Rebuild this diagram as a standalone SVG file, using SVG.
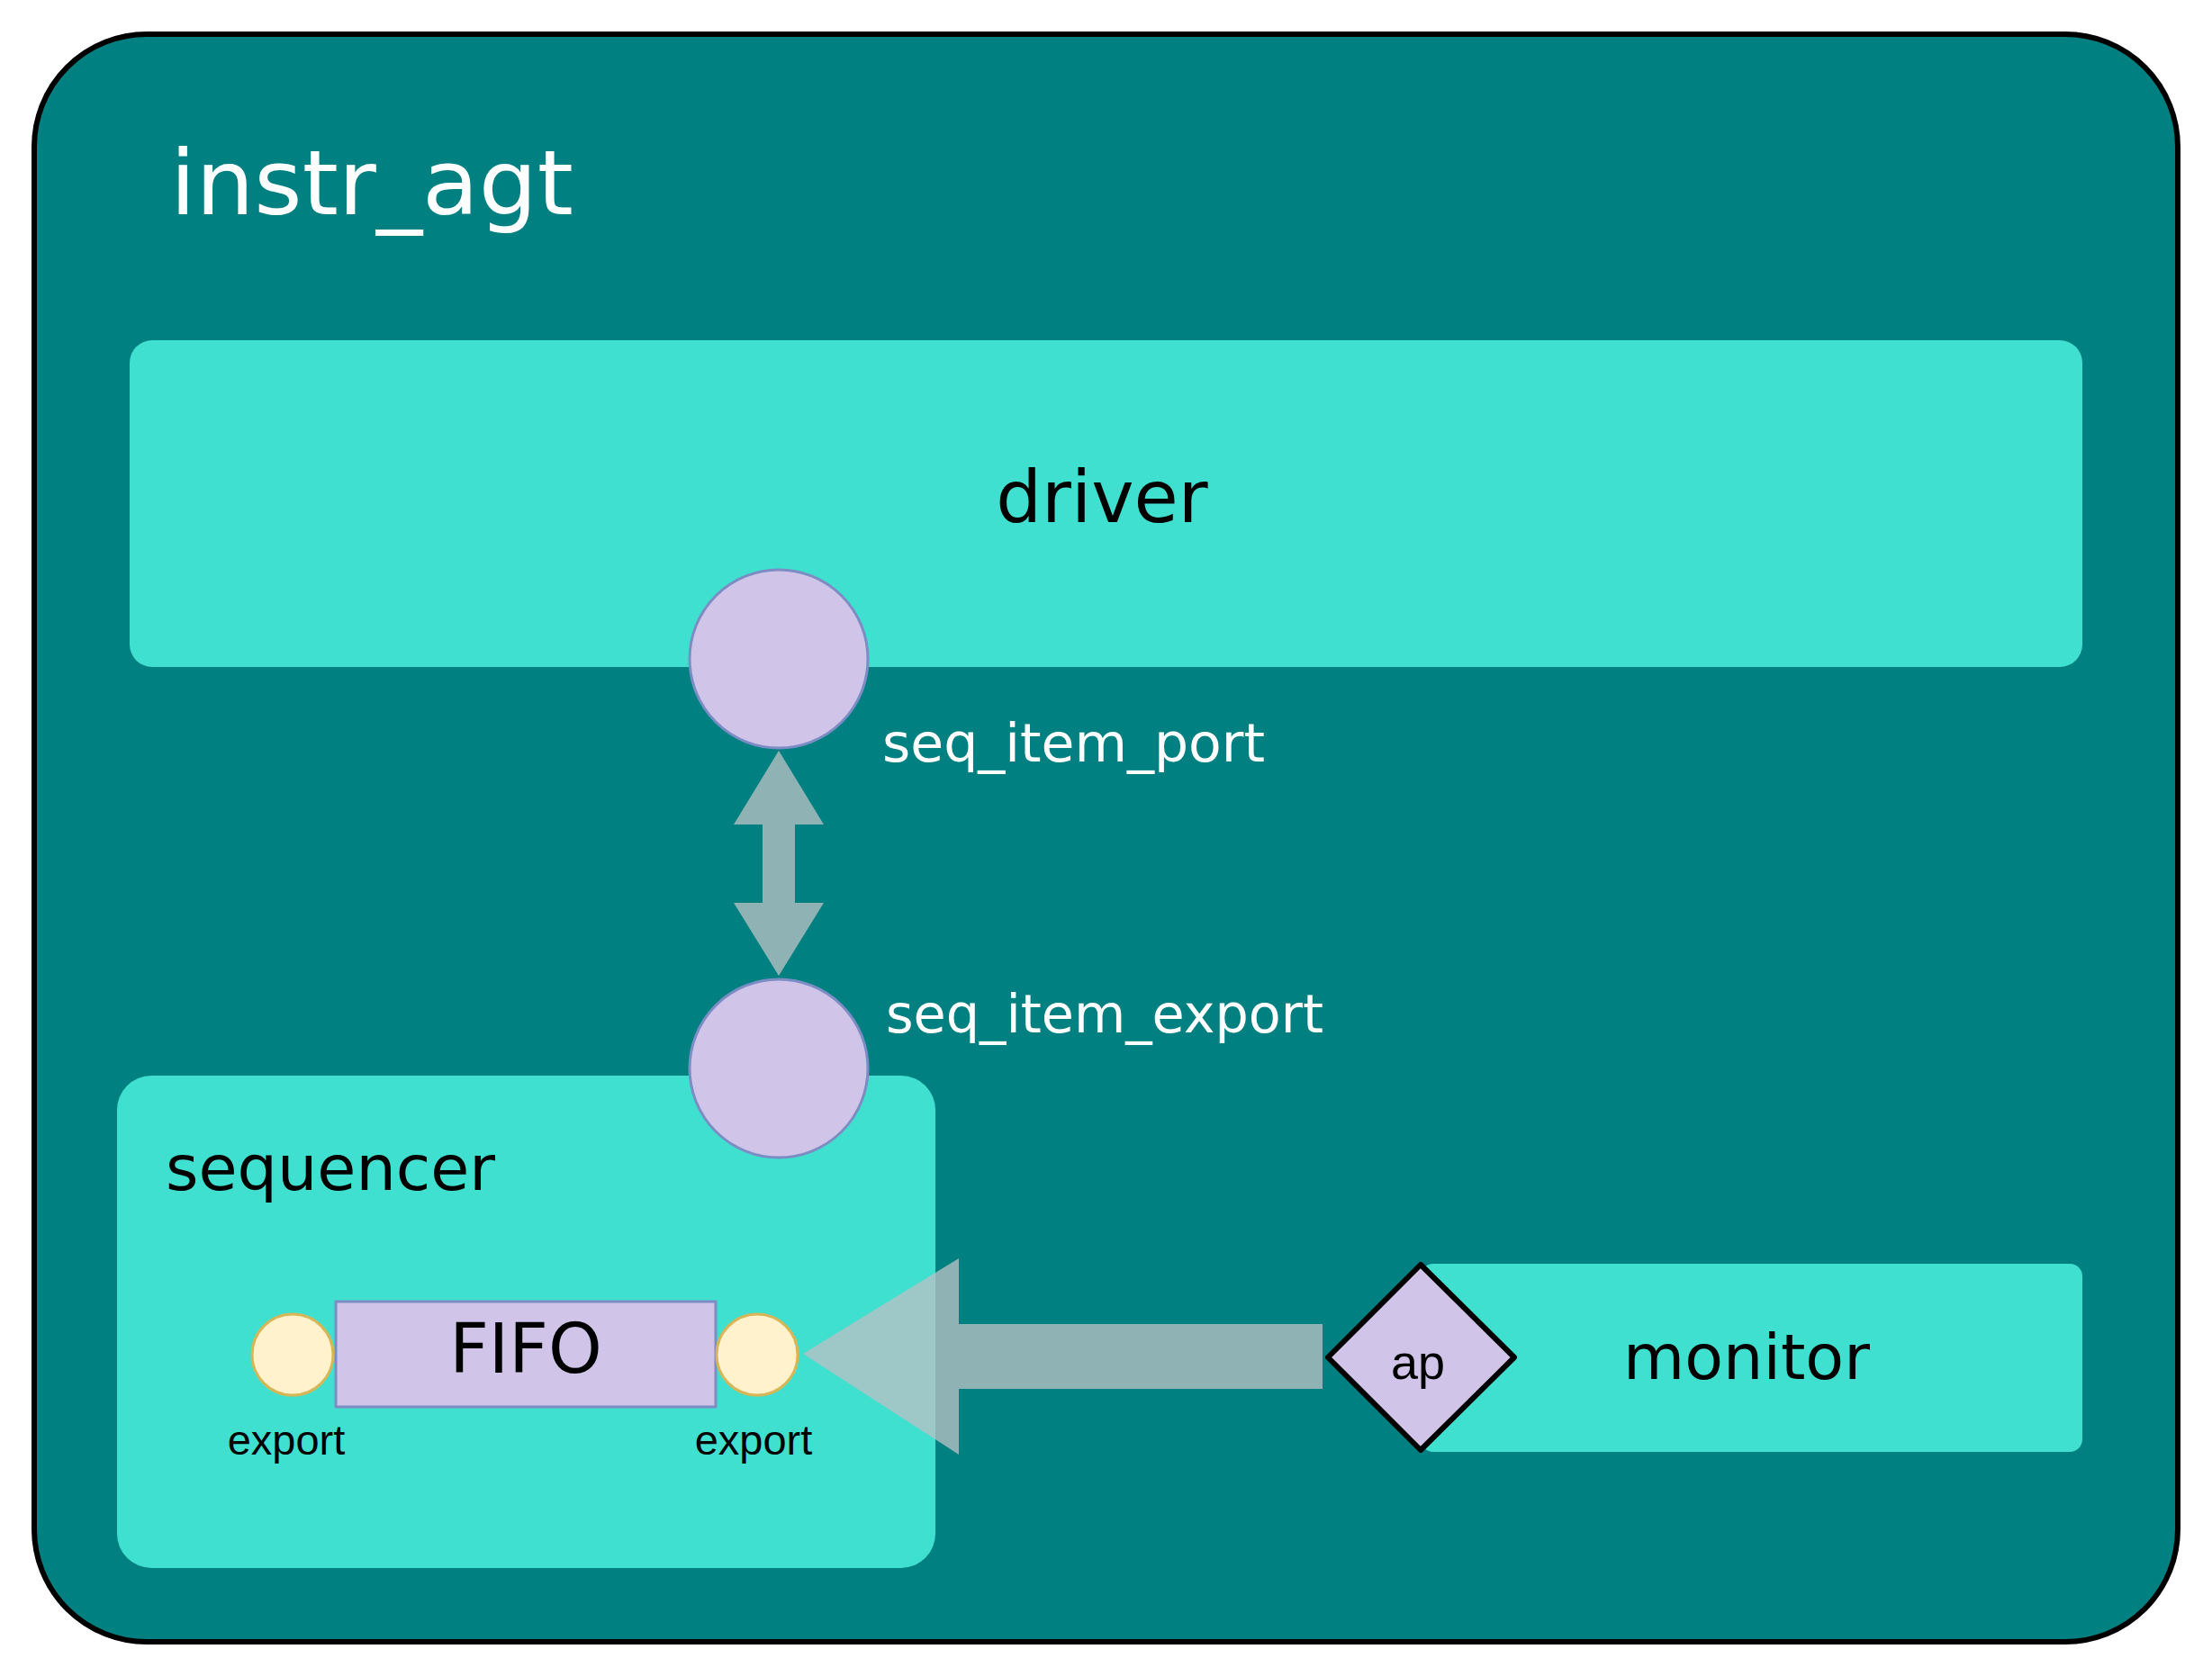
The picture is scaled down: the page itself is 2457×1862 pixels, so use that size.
<svg xmlns="http://www.w3.org/2000/svg" width="2457" height="1862" viewBox="0 0 2457 1862">
<style>
.box{fill:#40E0D0;}
.port{fill:#D0C4E8;stroke:#7C8DC4;stroke-width:3;}
.exp{fill:#FFF2CC;stroke:#D6B656;stroke-width:3;}
.conn{fill:#B7C1C4;fill-opacity:0.78;}
.lbl{font-family:"DejaVu Sans",sans-serif;fill:#000;}
.wlbl{font-family:"DejaVu Sans",sans-serif;fill:#fff;}
.sm{font-family:"Liberation Sans",Arial,sans-serif;fill:#000;}
</style>
<rect x="0" y="0" width="2457" height="1862" fill="#fff"/>
<g id="instr_agt">
<rect x="38" y="38" width="2381" height="1786" rx="125" ry="125" fill="#008080" stroke="#000" stroke-width="6"/>
<text class="wlbl" x="189" y="238" font-size="100" textLength="448" lengthAdjust="spacingAndGlyphs">instr_agt</text>
</g>
<g id="driver">
<rect class="box" x="144" y="378" width="2169" height="363" rx="25" ry="25"/>
<text class="lbl" x="1224" y="580" font-size="80" text-anchor="middle">driver</text>
</g>
<g id="sequencer">
<rect class="box" x="130" y="1195" width="909" height="547" rx="38" ry="38"/>
<text class="lbl" x="184" y="1322" font-size="70">sequencer</text>
</g>
<g id="fifo">
<rect class="port" x="373" y="1446" width="422" height="117"/>
<text class="lbl" x="584" y="1525" font-size="76" text-anchor="middle">FIFO</text>
</g>
<g id="fifo_export_left">
<circle class="exp" cx="325" cy="1505" r="45"/>
<text class="sm" x="318" y="1616" font-size="47" text-anchor="middle">export</text>
</g>
<g id="fifo_export_right">
<circle class="exp" cx="841" cy="1505" r="45"/>
<text class="sm" x="837" y="1616" font-size="47" text-anchor="middle">export</text>
</g>
<g id="monitor">
<rect class="box" x="1578" y="1404" width="735" height="209" rx="14" ry="14"/>
<text class="lbl" x="1940" y="1532" font-size="70" text-anchor="middle">monitor</text>
</g>
<g id="connectors">
<path class="conn" d="M865,834 L915,916 L883,916 L883,1003 L915,1003 L865,1084 L815,1003 L847,1003 L847,916 L815,916 Z"/>
<path class="conn" d="M892,1504 L1065,1398 L1065,1471 L1469,1471 L1469,1543 L1065,1543 L1065,1616 Z"/>
</g>
<g id="seq_item_port">
<circle class="port" cx="865" cy="732" r="99"/>
<text class="wlbl" x="980" y="846" font-size="58" textLength="425" lengthAdjust="spacingAndGlyphs">seq_item_port</text>
</g>
<g id="seq_item_export">
<circle class="port" cx="865" cy="1187" r="99"/>
<text class="wlbl" x="984" y="1147" font-size="58" textLength="486" lengthAdjust="spacingAndGlyphs">seq_item_export</text>
</g>
<g id="ap">
<path d="M1578,1405 L1682,1508 L1578,1611 L1475,1508 Z" fill="#D0C4E8" stroke="#000" stroke-width="6" stroke-linejoin="round"/>
<text class="sm" x="1575" y="1532" font-size="54" text-anchor="middle">ap</text>
</g>
</svg>
